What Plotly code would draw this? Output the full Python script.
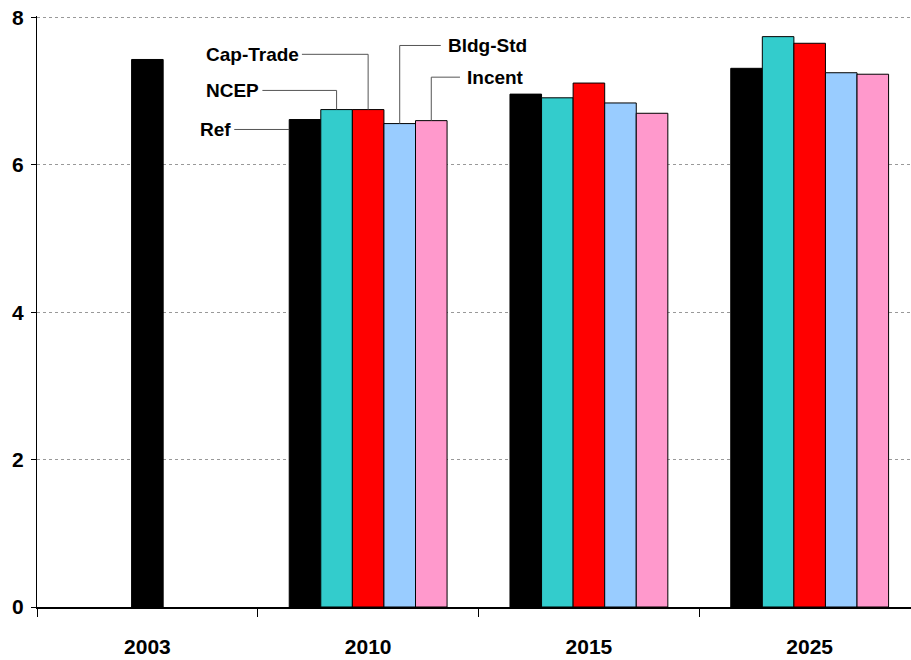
import plotly.graph_objects as go

categories = ["2003", "2010", "2015", "2025"]
series_names = ["Ref", "NCEP", "Cap-Trade", "Bldg-Std", "Incent"]
ref_vals = [7.43, 6.615, 6.96, 7.31]
ncep_vals = [6.75, 6.91, 7.74]
cap_vals = [6.75, 7.11, 7.65]
bldg_vals = [6.56, 6.84, 7.25]
incent_vals = [6.60, 6.70, 7.23]
y_ticks = [0, 2, 4, 6, 8]

colors = ["#000000", "#33CCCC", "#FF0000", "#99CCFF", "#FF99CC"]
W = 0.143  # bar width in category units

fig = go.Figure()
# Ref: 2003 centred alone, later years first in group of five
fig.add_trace(go.Bar(
    x=categories, y=ref_vals, name="Ref",
    width=W, offset=[-W / 2, -2.5 * W, -2.5 * W, -2.5 * W],
    marker=dict(color=colors[0], line=dict(color="#000000", width=1)),
))
others = [ncep_vals, cap_vals, bldg_vals, incent_vals]
for i, vals in enumerate(others, start=1):
    fig.add_trace(go.Bar(
        x=categories[1:], y=vals, name=series_names[i],
        width=W, offset=(-2.5 + i) * W,
        marker=dict(color=colors[i], line=dict(color="#000000", width=1)),
    ))

# Leader labels for 2010 group
lab_font = dict(family="Liberation Sans, Arial, sans-serif", size=19, color="#000000")
line_style = dict(color="#555555", width=1)
cat_idx = 1
# (name, bar value, label y, horizontal leader length (category units), side)
labels = [
    ("NCEP", ncep_vals[0], 7.01, 0.336, "left"),
    ("Cap-Trade", cap_vals[0], 7.50, 0.30, "left"),
    ("Bldg-Std", bldg_vals[0], 7.62, 0.186, "right"),
    ("Incent", incent_vals[0], 7.19, 0.13, "right"),
]
shapes = []
annotations = []
for k, (name, val, ly, ln, side) in enumerate(labels, start=1):
    xc = cat_idx + (-2.5 + k) * W + W / 2
    xe = xc - ln if side == "left" else xc + ln
    shapes.append(dict(type="line", xref="x", yref="y", x0=xe, x1=xc, y0=ly, y1=ly, line=line_style))
    shapes.append(dict(type="line", xref="x", yref="y", x0=xc, x1=xc, y0=ly, y1=val, line=line_style))
    annotations.append(dict(
        x=xe, y=ly, xref="x", yref="y", text="<b>%s</b>" % name, showarrow=False,
        xanchor="right" if side == "left" else "left", yanchor="middle",
        xshift=-1 if side == "left" else 5, font=lab_font,
    ))
# Ref leader: horizontal to bar left edge
ref_left = cat_idx - 2.5 * W
ref_ly = 6.48
shapes.append(dict(type="line", xref="x", yref="y", x0=ref_left - 0.249, x1=ref_left,
                   y0=ref_ly, y1=ref_ly, line=line_style))
annotations.append(dict(
    x=ref_left - 0.249, y=ref_ly, xref="x", yref="y", text="<b>Ref</b>", showarrow=False,
    xanchor="right", yanchor="middle", xshift=-1, font=lab_font,
))

tick_font = dict(family="Liberation Sans Narrow, Arial Narrow, Liberation Sans, Arial, sans-serif",
                 size=21, color="#000000")

fig.update_layout(
    width=911, height=660,
    margin=dict(l=37, r=0, t=16, b=53),
    paper_bgcolor="white", plot_bgcolor="white",
    barmode="overlay", showlegend=False,
    shapes=shapes, annotations=annotations,
    xaxis=dict(
        type="category", categoryorder="array", categoryarray=categories,
        range=[-0.5, 3.459],
        tickmode="array", tickvals=categories,
        ticktext=["<b>%s</b>" % c for c in categories],
        tickfont=tick_font,
        showline=True, linecolor="#000000", linewidth=1.5,
        ticks="outside", tickson="boundaries", ticklen=8, tickcolor="#000000",
        showgrid=False, ticklabelstandoff=20, automargin=False,
    ),
    yaxis=dict(
        range=[0, 8.02],
        tickmode="array", tickvals=y_ticks,
        ticktext=["<b>%d</b>" % v for v in y_ticks],
        tickfont=tick_font,
        showline=True, linecolor="#000000", linewidth=1,
        ticks="outside", ticklen=5, tickcolor="#000000",
        showgrid=True, gridcolor="#999999", griddash="dot", gridwidth=1,
        zeroline=False, ticklabelstandoff=3, automargin=False,
        ticklabeloverflow="allow",
    ),
)

fig.write_html("out.html", config={"displayModeBar": False},
               post_script="document.body.style.margin='0px';")
